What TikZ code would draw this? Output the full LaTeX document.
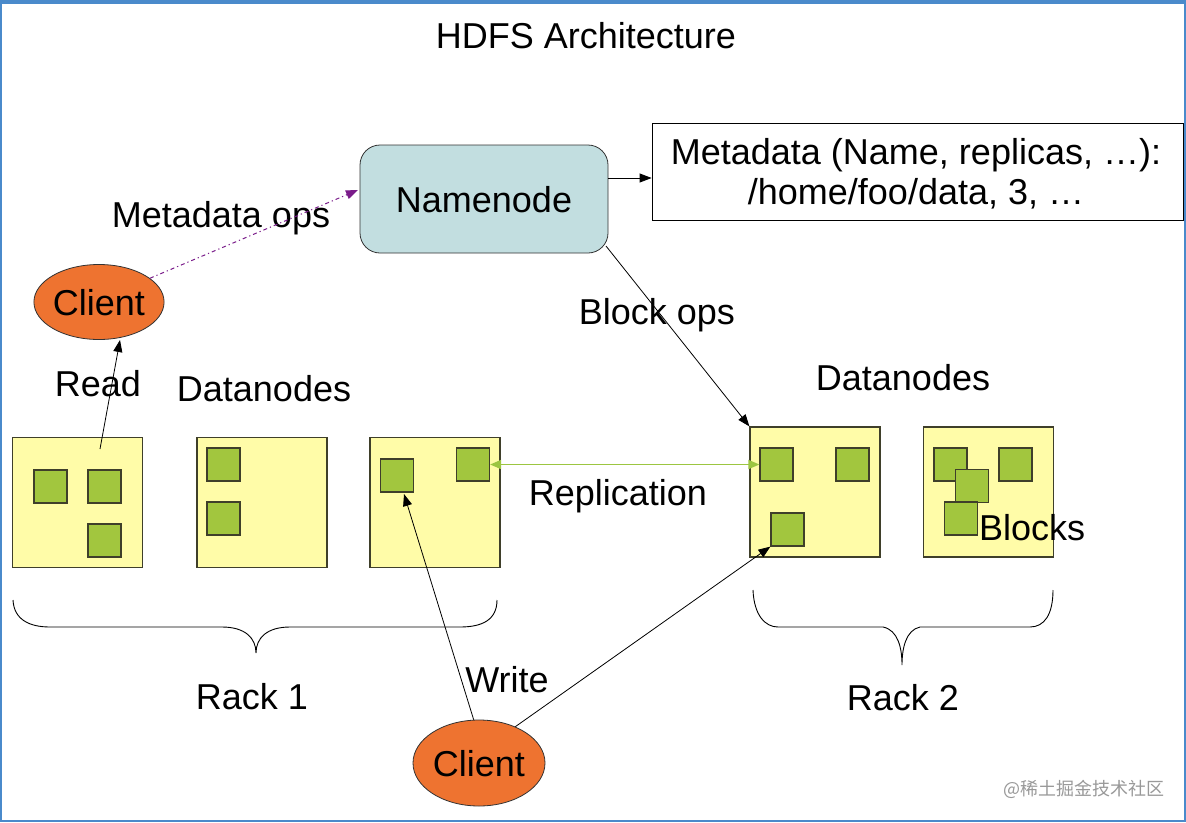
\documentclass[tikz,border=0pt]{standalone}
\usepackage{fontspec}
\setmainfont{Liberation Sans}
\newfontfamily\cjk{Noto Sans CJK SC}
\usetikzlibrary{arrows.meta,shapes.geometric}
\definecolor{frameblue}{HTML}{4A8ACB}
\definecolor{nnfill}{HTML}{C2DEE0}
\definecolor{dnfill}{HTML}{FFFCA8}
\definecolor{blkfill}{HTML}{A2C63E}
\definecolor{boxline}{HTML}{3F3F2A}
\definecolor{clientfill}{HTML}{EE7330}
\definecolor{mdpurple}{HTML}{7A1C8A}
\definecolor{repgreen}{HTML}{9CC641}
\tikzset{
  lbl/.style={inner sep=0pt, text height=26pt, text depth=0pt, font=\fontsize{36}{40}\selectfont},
  dnbox/.style={draw=boxline, line width=1.2pt, fill=dnfill, minimum width=130pt, minimum height=130pt, inner sep=0pt},
  blk/.style={draw=boxline, line width=1.2pt, fill=blkfill, minimum width=33pt, minimum height=33pt, inner sep=0pt},
  clientnode/.style={ellipse, draw=black!80, line width=0.8pt, fill=clientfill, inner sep=0pt, text height=26pt, text depth=0pt, font=\fontsize{36}{40}\selectfont},
  arr/.style={draw=black, line width=0.8pt, -{Triangle[length=12pt,width=9pt]}},
}
\begin{document}
\begin{tikzpicture}[x=1pt,y=-1pt]
\useasboundingbox (0,0) rectangle (1186,822);
\fill[white] (0,0) rectangle (1186,822);
% frame
\fill[frameblue] (0,0) rectangle (1186,4);
\fill[frameblue] (0,0) rectangle (2,822);
\fill[frameblue] (1183.5,0) rectangle (1186,822);
\fill[frameblue] (0,819.5) rectangle (1186,822);

% title
\node[lbl] (title) at (586,35) {HDFS Architecture};

% namenode and metadata
\node[draw=black!80, line width=0.8pt, fill=nnfill, rounded corners=20pt, minimum width=248pt, minimum height=108pt, inner sep=0pt, text height=26pt, text depth=0pt, font=\fontsize{36}{40}\selectfont] (namenode) at (484,199) {Namenode};
\node[draw=black, line width=0.8pt, fill=white, minimum width=531pt, minimum height=97pt, inner sep=0pt] (meta) at (917.5,171.5) {};
\node[lbl] (meta1) at (916,151) {Metadata (Name, replicas, \ldots):};
\node[lbl] (meta2) at (916,191) {/home/foo/data, 3, \ldots};

% clients
\node[clientnode, minimum width=130pt, minimum height=75pt] (client1) at (99,302) {Client};
\node[clientnode, minimum width=132pt, minimum height=86pt] (client2) at (479,763) {Client};

% rack 1 datanodes
\node[dnbox] (dn1) at (77.5,502.5) {};
\node[dnbox] (dn2) at (262,502.5) {};
\node[dnbox] (dn3) at (435,502.5) {};
\node[blk] (b1a) at (50.5,486.5) {};
\node[blk] (b1b) at (104.5,486.5) {};
\node[blk] (b1c) at (104.5,540.5) {};
\node[blk] (b2a) at (223.5,464.5) {};
\node[blk] (b2b) at (223.5,518.5) {};
\node[blk] (b3a) at (397,475.5) {};
\node[blk] (b3b) at (473,464.5) {};

% rack 2 datanodes
\node[dnbox] (dnA) at (815,492) {};
\node[dnbox] (dnB) at (988.5,492) {};
\node[blk] (bA1) at (776.5,464.5) {};
\node[blk] (bA2) at (852.5,464.5) {};
\node[blk] (bA3) at (787.5,529.5) {};
\node[blk] (bB1) at (950.5,464.5) {};
\node[blk] (bB2) at (1015.5,464.5) {};
\node[blk] (bB3) at (972,486) {};
\node[blk] (bB4) at (961,518.5) {};

% labels
\node[lbl] (mdops) at (221,214) {Metadata ops};
\node[lbl] (read) at (98,383) {Read};
\node[lbl] (dnl) at (264,388) {Datanodes};
\node[lbl] (dnr) at (903,377) {Datanodes};
\node[lbl] (blockops) at (657,311) {Block ops};
\node[lbl] (repl) at (618,492) {Replication};
\node[lbl, anchor=west] (blocks) at (979,527) {Blocks};
\node[lbl] (rack1) at (252,696) {Rack 1};
\node[lbl] (rack2) at (903,697) {Rack 2};
\node[lbl] (write) at (507,679) {Write};

% connectors
\coordinate (readstart) at (100,449);
\coordinate (readend) at (120,340);
\draw[arr] (readstart) -- (readend);

\coordinate (mdend) at (358,190);
\draw[draw=mdpurple, line width=1pt, dash pattern=on 4pt off 3pt on 1.2pt off 3pt, -{Triangle[length=12pt,width=9pt,fill=mdpurple]}] (client1.25) -- (mdend);

\draw[arr] (namenode.east |- 0,178) -- (meta.west |- 0,178);

\coordinate (bostart) at (606,246);
\draw[arr] (bostart) -- (dnA.north west);

\draw[draw=repgreen, line width=1.6pt, {Triangle[length=11pt,width=9pt]}-{Triangle[length=11pt,width=9pt]}] (b3b.east) -- (bA1.west);

\coordinate (w1end) at (404,494);
\draw[arr] (client2.97) -- (w1end);
\draw[arr] (client2.45) -- (bA3.south west);

% braces
\draw[line width=0.9pt] (13,600) .. controls (14,620) and (30,627) .. (50,627) -- (222,627) .. controls (245,627) and (256,638) .. (256,653) .. controls (256,638) and (267,627) .. (290,627) -- (460,627) .. controls (482,627) and (497,620) .. (497,600);
\draw[line width=0.9pt] (753,590) .. controls (754,615) and (765,627) .. (778,627) -- (883,627) .. controls (898,630) and (902,648) .. (902,665) .. controls (902,648) and (906,630) .. (920,627) -- (1030,627) .. controls (1044,627) and (1053,615) .. (1053,590);

% watermark
\node[inner sep=0pt, text=black!40, font=\cjk\fontsize{18}{20}\selectfont] (wm) at (1084,789) {@稀土掘金技术社区};
\end{tikzpicture}
\end{document}
